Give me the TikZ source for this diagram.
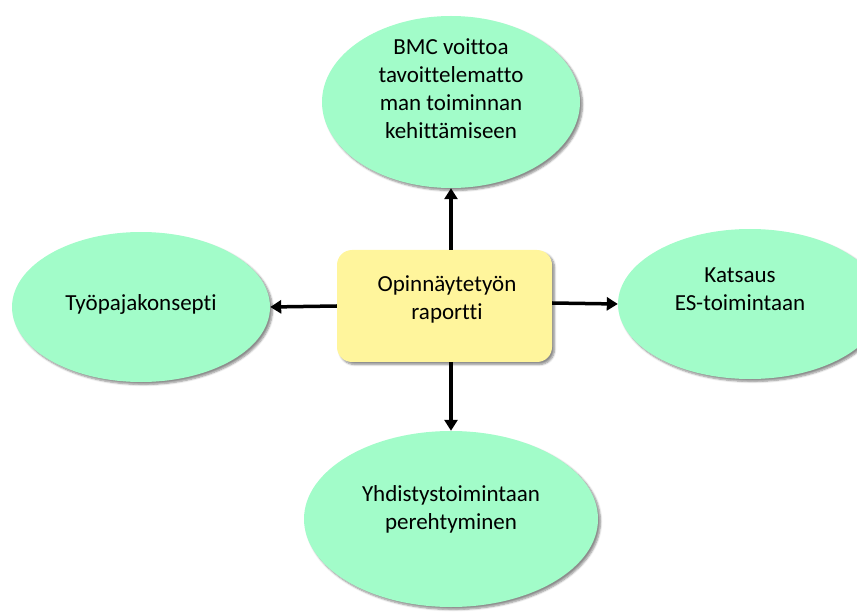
\documentclass[tikz,border=0pt]{standalone}
\usepackage{fontspec}
\setmainfont{Carlito}[Ligatures=NoCommon]
\usetikzlibrary{shapes.geometric,arrows.meta,shadows.blur}
\definecolor{mint}{RGB}{162,252,201}
\definecolor{paleyellow}{RGB}{255,245,156}
\tikzset{
  bubble/.style={ellipse, fill=mint, draw=none, inner sep=0pt,
    blur shadow={shadow xshift=2.5pt, shadow yshift=-2.5pt, shadow blur steps=6, shadow blur radius=2pt, shadow opacity=45}},
  hub/.style={rectangle, rounded corners=15pt, fill=paleyellow, draw=none, inner sep=0pt,
    minimum width=215pt, minimum height=112pt,
    blur shadow={shadow xshift=2.5pt, shadow yshift=-2.5pt, shadow blur steps=6, shadow blur radius=2pt, shadow opacity=45}},
  txt/.style={align=center, inner sep=0pt, font=\fontsize{23}{28}\selectfont, text=black},
  conn/.style={line width=3.5pt, -{Triangle[length=11pt,width=13pt]}},
}
\begin{document}
\begin{tikzpicture}[x=1pt,y=-1pt]
  \useasboundingbox (0,0) rectangle (857,612);
  % outer topics
  \node[bubble, minimum width=258pt, minimum height=172pt] (top) at (451,102) {};
  \node[bubble, minimum width=258pt, minimum height=150pt] (left) at (141,307) {};
  \node[bubble, minimum width=264pt, minimum height=150pt] (right) at (750,304) {};
  \node[bubble, minimum width=294pt, minimum height=176pt] (bottom) at (451,519) {};
  % central report box
  \node[hub] (hub) at (444.5,306) {};
  % labels
  \node[txt] (toptxt) at (451,89) {BMC voittoa\\tavoittelematto\\man toiminnan\\kehittämiseen};
  \node[txt] (lefttxt) at (141,304) {Työpajakonsepti};
  \node[txt] (righttxt) at (740,289) {Katsaus\\ES-toimintaan};
  \node[txt] (bottomtxt) at (451,509) {Yhdistystoimintaan\\perehtyminen};
  \node[txt] (hubtxt) at (447,299) {Opinnäytetyön\\raportti};
  % connectors
  \draw[conn] (hub.north -| top.south) -- (top.south);
  \draw[conn] (hub.south -| bottom.north) -- (bottom.north);
  \draw[conn] (hub.west) -- (left.east);
  \draw[conn] ([yshift=3pt]hub.east) -- (right.west);
\end{tikzpicture}
\end{document}
